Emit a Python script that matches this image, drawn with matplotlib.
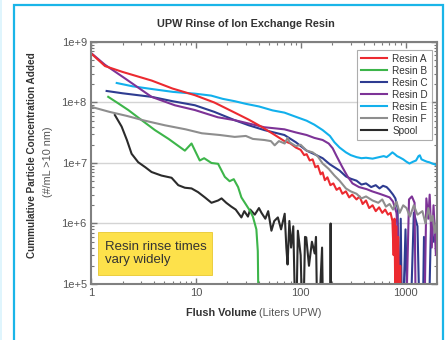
import matplotlib
matplotlib.use('Agg')
import matplotlib.pyplot as plt
import matplotlib.patches as patches
from matplotlib.ticker import FixedLocator, FixedFormatter, LogLocator, NullFormatter

plt.rcParams['font.family'] = ['Liberation Sans', 'DejaVu Sans']

# Flush volume (L) and cumulative particle concentration (#/mL)
resin_a_x = [1.0, 1.36, 2.0, 3.8, 6.0, 9.8, 15, 23.5, 32, 42, 55, 70, 80, 90, 100, 108, 114, 122,
             130, 138, 146, 155, 162, 170, 180, 192, 205, 220, 235, 250, 270, 290, 310, 341, 365,
             390, 420, 450, 485, 520, 560, 600, 640, 680, 720, 750, 770, 785, 800, 815, 830, 850,
             870, 890, 910, 940, 970]
resin_a_y = [6.5e8, 4.0e8, 3.2e8, 2.3e8, 1.7e8, 1.32e8, 1.0e8, 6.8e7, 5.2e7, 4.0e7, 3.0e7, 2.3e7,
             2.1e7, 1.8e7, 1.65e7, 1.35e7, 1.4e7, 1.1e7, 1.15e7, 8.5e6, 9.0e6, 6.5e6, 7.0e6, 5.2e6,
             5.8e6, 4.3e6, 4.6e6, 3.6e6, 3.9e6, 3.1e6, 3.4e6, 2.7e6, 3.0e6, 2.5e6, 2.8e6, 2.1e6,
             2.4e6, 1.8e6, 2.0e6, 1.6e6, 1.85e6, 1.5e6, 1.7e6, 1.4e6, 1.5e6, 1.1e6, 3e5, 1.2e6, 5e4,
             9e5, 3e4, 6e5, 2e4, 2e5, 2e4, 1e5, 1e4]

resin_b_x = [1.46, 1.8, 2.27, 3.0, 4.07, 5.5, 7.86, 9.1, 10.9, 12, 14.1, 16.3, 18.9, 21, 23, 25.3,
             27.2, 30.4, 33, 35, 37.8, 39, 40]
resin_b_y = [1.24e8, 9.8e7, 7.5e7, 5.2e7, 3.5e7, 2.5e7, 1.6e7, 2.1e7, 1.1e7, 1.2e7, 1.0e7, 9.7e6,
             5.9e6, 5.0e6, 5.4e6, 4.0e6, 2.7e6, 2.0e6, 1.6e6, 1.3e6, 8e5, 3.5e5, 1e4]

resin_c_x = [1.41, 2.0, 3.78, 6.0, 9.8, 15, 23.5, 32, 45, 70, 90, 114, 135, 162, 190, 235, 270,
             300, 341, 380, 420, 470, 520, 565, 610, 660, 700, 760, 800, 840, 870, 900, 930, 1000,
             1060, 1100, 1200, 1300, 1380, 1450, 1500, 1560, 1650, 1750, 1850, 2000]
resin_c_y = [1.55e8, 1.42e8, 1.24e8, 1.05e8, 9.0e7, 7.0e7, 5.1e7, 4.2e7, 3.5e7, 2.9e7, 2.2e7,
             1.6e7, 1.4e7, 1.2e7, 9.5e6, 7.5e6, 6.0e6, 5.5e6, 5.1e6, 4.4e6, 4.6e6, 4.0e6, 4.3e6,
             3.8e6, 4.2e6, 4.0e6, 3.6e6, 3.0e6, 2.6e6, 1.8e6, 1e4, 1.2e6, 1e4, 8e5, 1e4, 1e4,
             1.5e6, 9e5, 1e4, 1e4, 6e5, 1e4, 1e4, 1e6, 5e5, 8e5]

resin_d_x = [1.0, 1.36, 2.11, 3.78, 6.3, 9.8, 16.2, 23.5, 45, 70, 90, 114, 135, 162, 185, 202,
             220, 250, 280, 312, 360, 425, 480, 565, 630, 705, 760, 820, 850, 870, 1000, 1080,
             1150, 1220, 1260, 1500, 1580, 1650, 1700, 1780, 1850, 1950, 2000]
resin_d_y = [6.6e8, 4.2e8, 2.5e8, 1.24e8, 9.0e7, 7.5e7, 5.7e7, 5.1e7, 3.9e7, 3.6e7, 3.2e7, 2.9e7,
             2.6e7, 2.4e7, 2.1e7, 1.75e7, 1.3e7, 8.5e6, 6.0e6, 4.6e6, 4.0e6, 3.7e6, 3.4e6, 3.1e6,
             2.9e6, 2.7e6, 2.3e6, 1.5e6, 6e5, 1e4, 1e4, 2.5e6, 2.8e6, 2.2e6, 1e4, 1e4, 2.6e6,
             1.2e6, 3e6, 4e5, 2e6, 3e5, 1e6]

resin_e_x = [1.76, 2.5, 4.0, 6.0, 7.86, 9.8, 14, 18, 23.5, 30, 40, 54, 70, 90, 114, 135, 162, 190,
             210, 235, 270, 300, 341, 380, 420, 485, 560, 620, 660, 700, 750, 790, 830, 870, 950,
             1020, 1090, 1180, 1260, 1330, 1370, 1420, 1500, 1600, 1680, 1800, 1900, 2000]
resin_e_y = [2.1e8, 1.85e8, 1.65e8, 1.5e8, 1.44e8, 1.4e8, 1.3e8, 1.15e8, 1.05e8, 9.5e7, 8.6e7,
             7.4e7, 6.8e7, 5.8e7, 5.0e7, 4.3e7, 3.5e7, 2.8e7, 2.2e7, 1.8e7, 1.5e7, 1.35e7, 1.25e7,
             1.2e7, 1.22e7, 1.18e7, 1.25e7, 1.3e7, 1.25e7, 1.35e7, 1.5e7, 1.4e7, 1.3e7, 1.25e7,
             1.15e7, 1.05e7, 9.8e6, 1.05e7, 1.1e7, 1.3e7, 1.34e7, 1.15e7, 1.1e7, 1.05e7, 1.03e7,
             9.8e6, 9.5e6, 9.1e6]

resin_f_x = [1.0, 1.5, 2.2, 3.27, 5.07, 8, 11.4, 17, 23.5, 30, 35, 45, 52, 56.5, 62, 70.4, 75,
             78.5, 90, 100, 114, 130, 145, 162, 185, 210, 235, 270, 300, 341, 380, 420, 485, 550,
             600, 650, 705, 760, 820, 880, 950, 1023, 1100, 1200, 1300, 1450, 1550, 1650, 1750,
             1810, 1900, 2000]
resin_f_y = [8.5e7, 7.0e7, 6.0e7, 5.0e7, 4.2e7, 3.6e7, 3.1e7, 2.9e7, 2.7e7, 2.8e7, 2.5e7, 2.4e7,
             2.3e7, 1.96e7, 2.3e7, 2.1e7, 2.6e7, 2.2e7, 1.9e7, 2.0e7, 1.6e7, 1.5e7, 1.3e7, 9.8e6,
             8e6, 6.2e6, 5.1e6, 3.8e6, 3.4e6, 3.1e6, 2.6e6, 2.8e6, 2.4e6, 2.2e6, 2.5e6, 1.9e6,
             2.1e6, 1.7e6, 2.3e6, 1.5e6, 2.0e6, 1.8e6, 1.3e6, 2.0e6, 1.4e6, 1.6e6, 1.0e6, 1.8e6,
             1.1e6, 1.35e6, 7e5, 1.2e6]

spool_x = [1.69, 1.96, 2.2, 2.44, 2.82, 3.3, 3.78, 4.7, 5.87, 6.8, 7.86, 9.1, 10.5, 12.2, 14.1,
           16.3, 17.6, 19.5, 21.8, 24, 27.2, 29, 31.4, 33, 36.5, 40, 42.3, 46, 49, 52.6, 56, 60.6,
           65, 70.4, 73, 75, 78, 81, 85, 90, 94, 100, 105, 110, 113, 120, 128, 136, 140, 145, 160,
           165, 190, 193, 196]
spool_y = [6.2e7, 4.0e7, 2.4e7, 1.42e7, 1.03e7, 8.5e6, 7.1e6, 6.2e6, 5.7e6, 4.3e6, 3.9e6, 3.8e6,
           3.3e6, 2.7e6, 2.2e6, 2.4e6, 2.6e6, 2.2e6, 1.9e6, 1.7e6, 1.26e6, 1.6e6, 1.3e6, 1.7e6,
           1.4e6, 1.8e6, 1.5e6, 1.2e6, 1.6e6, 7.6e5, 1.1e6, 1.26e6, 8e5, 1.45e6, 4e5, 2.1e5,
           1.1e6, 4e5, 9e5, 1e4, 7.6e5, 3e5, 1e4, 6e5, 5.9e5, 2e5, 5e5, 3.2e5, 6e5, 1e4, 4e5,
           1e4, 1e4, 1e6, 1e4]

y_ticks = [1e5, 1e6, 1e7, 1e8, 1e9]
y_tick_labels = ['1e+5', '1e+6', '1e+7', '1e+8', '1e+9']
x_ticks = [1, 10, 100, 1000]
x_tick_labels = ['1', '10', '100', '1000']

fig = plt.figure(figsize=(4.46, 3.40), dpi=100)
ax = fig.add_axes([0.204, 0.1647, 0.776, 0.7118])

lw = 1.5
l_spool, = ax.plot(spool_x, spool_y, color='#2b2b2b', lw=lw, label='Spool')
l_b, = ax.plot(resin_b_x, resin_b_y, color='#3db54a', lw=lw, label='Resin B')
l_e, = ax.plot(resin_e_x, resin_e_y, color='#12b0ec', lw=lw, label='Resin E')
l_c, = ax.plot(resin_c_x, resin_c_y, color='#2e3c91', lw=lw, label='Resin C')
l_d, = ax.plot(resin_d_x, resin_d_y, color='#7d3397', lw=lw, label='Resin D')
l_a, = ax.plot(resin_a_x, resin_a_y, color='#ec2a30', lw=lw, label='Resin A')
l_f, = ax.plot(resin_f_x, resin_f_y, color='#8e8e8e', lw=lw, label='Resin F')

ax.set_xscale('log')
ax.set_yscale('log')
ax.set_xlim(1, 2000)
ax.set_ylim(1e5, 1e9)

ax.yaxis.set_major_locator(FixedLocator(y_ticks))
ax.yaxis.set_major_formatter(FixedFormatter(y_tick_labels))
ax.xaxis.set_major_locator(FixedLocator(x_ticks))
ax.xaxis.set_major_formatter(FixedFormatter(x_tick_labels))
ax.xaxis.set_minor_locator(LogLocator(base=10, subs=range(2, 10)))
ax.yaxis.set_minor_locator(LogLocator(base=10, subs=range(2, 10)))
ax.xaxis.set_minor_formatter(NullFormatter())
ax.yaxis.set_minor_formatter(NullFormatter())

ax.tick_params(which='both', direction='in', top=True, right=True, colors='#777777',
               labelcolor='#555555', labelsize=8)
ax.tick_params(which='major', length=4, width=1, pad=3)
ax.tick_params(which='minor', length=2.5, width=0.8)
for s in ax.spines.values():
    s.set_color('#808080')
    s.set_linewidth(1.5)

ax.grid(axis='y', which='major', color='#d4d4d4', lw=1)
ax.set_axisbelow(True)

leg = ax.legend(handles=[l_a, l_b, l_c, l_d, l_e, l_f, l_spool], loc='upper right',
                bbox_to_anchor=(0.985, 0.968), fontsize=7.2, frameon=True, fancybox=False,
                handlelength=2.6, labelspacing=0.2, borderpad=0.4, handletextpad=0.5,
                borderaxespad=0)
leg.get_frame().set_edgecolor('#999999')
leg.get_frame().set_linewidth(0.8)
for t in leg.get_texts():
    t.set_color('#333333')

# yellow callout box
box = patches.Rectangle((0.02, 0.037), 0.33, 0.178, transform=ax.transAxes,
                        facecolor='#fde14b', edgecolor='#e8c830', lw=0.6, zorder=5)
ax.add_patch(box)
ax.text(0.04, 0.126, 'Resin rinse times\nvary widely', transform=ax.transAxes, fontsize=9.5,
        color='#333333', va='center', ha='left', linespacing=1.1, zorder=6)

fig.text(246 / 446, 1 - 24 / 340, 'UPW Rinse of Ion Exchange Resin', ha='center', va='center',
         fontsize=7.8, fontweight='bold', color='#333333')
fig.text(32 / 446, 1 - 155 / 340, 'Cummulative Particle Concentration Added', rotation=90,
         ha='center', va='center', fontsize=7.2, fontweight='bold', color='#333333')
fig.text(48 / 446, 1 - 162 / 340, '(#/mL >10 nm)', rotation=90, ha='center', va='center',
         fontsize=7.8, color='#555555')
fig.text(257 / 446, 1 - 313 / 340, 'Flush Volume', ha='right', va='center', fontsize=7.8,
         fontweight='bold', color='#333333')
fig.text(259 / 446, 1 - 313 / 340, '(Liters UPW)', ha='left', va='center', fontsize=7.8,
         color='#555555')

# light-blue page frame
fig.patches.append(patches.Rectangle((14 / 446, -0.05), 429 / 446, 1 - 5 / 340 + 0.05,
                                     transform=fig.transFigure, fill=False,
                                     edgecolor='#1ab5e8', lw=1.6))
fig.patches.append(patches.Rectangle((0, 0), 1.5 / 446, 1, transform=fig.transFigure,
                                     facecolor='#dff5fd', edgecolor='none'))

fig.savefig('out.png', dpi=100)
